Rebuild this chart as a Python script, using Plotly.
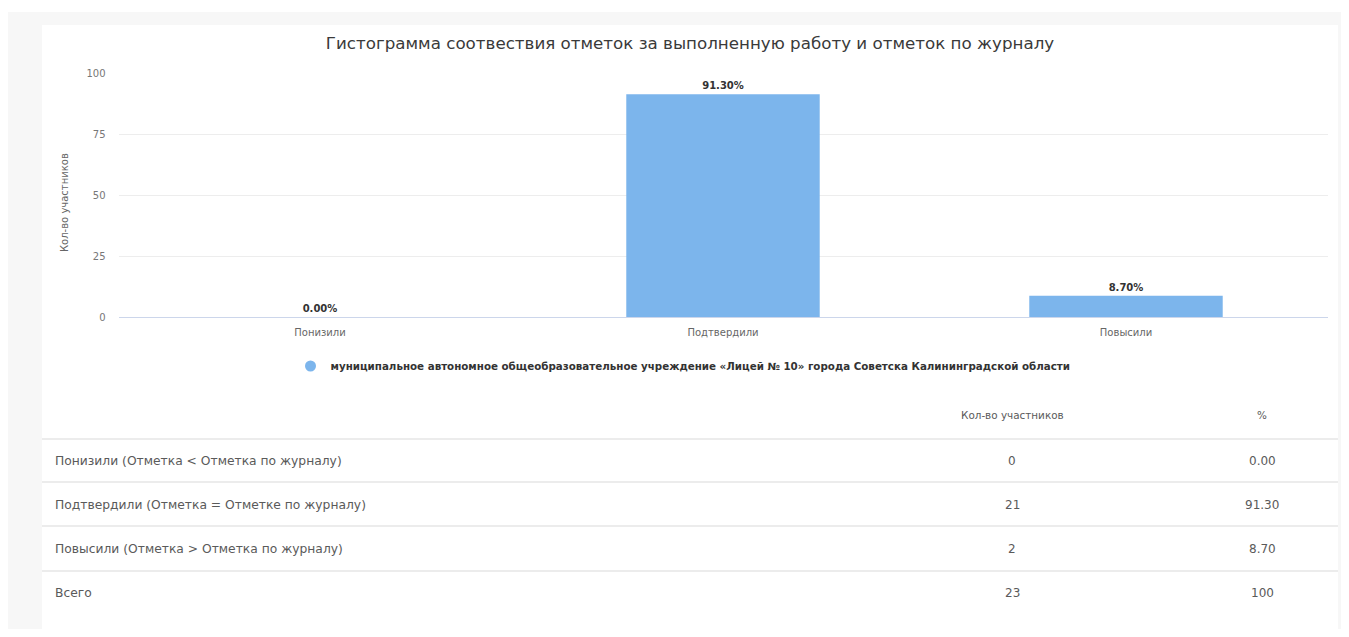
import plotly.graph_objects as go

# ---- data ----
categories = ["Понизили", "Подтвердили", "Повысили"]
percent_values = [0.00, 91.30, 8.70]
series_name = "муниципальное автономное общеобразовательное учреждение «Лицей № 10» города Советска Калининградской области"
y_ticks = [0, 25, 50, 75, 100]
chart_title = "Гистограмма соотвествия отметок за выполненную работу и отметок по журналу"
y_title = "Кол-во участников"

table_header = ["", "Кол-во участников", "%"]
table_labels = [
    "Понизили (Отметка < Отметка по журналу)",
    "Подтвердили (Отметка = Отметке по журналу)",
    "Повысили (Отметка > Отметка по журналу)",
    "Всего",
]
table_counts = ["0", "21", "2", "23"]
table_percents = ["0.00", "91.30", "8.70", "100"]

# ---- layout geometry (figure pixels) ----
W, H = 1333, 621
FONT = "DejaVu Sans"
BAR_COLOR = "#7cb5ec"


def px(x):
    return x / W


def py(y):
    return (H - y) / H


fig = go.Figure()

fig.add_trace(go.Bar(
    x=categories,
    y=percent_values,
    marker=dict(color=BAR_COLOR, line=dict(width=0)),
    width=0.48,
    text=[f"{v:.2f}%" for v in percent_values],
    texttemplate="<b>%{text}</b>",
    textposition="outside",
    textfont=dict(family=FONT, size=10, color="#333333"),
    cliponaxis=False,
    showlegend=False,
    name=series_name,
))
# legend entry with a round symbol
fig.add_trace(go.Scatter(
    x=[None], y=[None], mode="markers",
    marker=dict(symbol="circle", size=11, color=BAR_COLOR),
    name=series_name, showlegend=True,
))

shapes = [
    # gray page background
    dict(type="rect", xref="paper", yref="paper", x0=0, x1=1, y0=0, y1=py(4),
         fillcolor="#f7f7f7", line=dict(width=0), layer="below"),
    # white card
    dict(type="rect", xref="paper", yref="paper", x0=px(34), x1=px(1330), y0=0, y1=py(17),
         fillcolor="#ffffff", line=dict(width=0), layer="below"),
]
for ly in [431, 474, 518, 563]:
    shapes.append(dict(type="line", xref="paper", yref="paper", x0=px(34), x1=px(1330),
                       y0=py(ly), y1=py(ly), line=dict(color="#e6e6e6", width=1.5)))

annotations = [
    dict(text=y_title, xref="paper", yref="paper", x=px(57), y=py(195), textangle=-90,
         showarrow=False, font=dict(family=FONT, size=10, color="#666666"),
         xanchor="center", yanchor="middle"),
]
col_x = [45, 1004, 1254]
header_y = 407
row_y = [453, 497, 541, 585]
for cx, htxt in zip(col_x[1:], table_header[1:]):
    annotations.append(dict(text=htxt, xref="paper", yref="paper", x=px(cx), y=py(header_y),
                            showarrow=False, xanchor="center", yanchor="middle",
                            font=dict(family=FONT, size=10.4, color="#5a5a5a")))
for i in range(len(table_labels)):
    annotations.append(dict(text=table_labels[i], xref="paper", yref="paper", x=px(col_x[0]),
                            y=py(row_y[i]), showarrow=False, xanchor="left", yanchor="middle",
                            font=dict(family=FONT, size=12.3, color="#5a5a5a")))
    annotations.append(dict(text=table_counts[i], xref="paper", yref="paper", x=px(col_x[1]),
                            y=py(row_y[i]), showarrow=False, xanchor="center", yanchor="middle",
                            font=dict(family=FONT, size=12, color="#5a5a5a")))
    annotations.append(dict(text=table_percents[i], xref="paper", yref="paper", x=px(col_x[2]),
                            y=py(row_y[i]), showarrow=False, xanchor="center", yanchor="middle",
                            font=dict(family=FONT, size=12, color="#5a5a5a")))

fig.update_layout(
    width=W, height=H,
    margin=dict(l=0, r=0, t=0, b=0, pad=0, autoexpand=False),
    autosize=False,
    paper_bgcolor="#ffffff",
    plot_bgcolor="rgba(0,0,0,0)",
    font=dict(family=FONT, color="#666666"),
    title=dict(text=chart_title, x=px(682), y=py(35), xanchor="center", yanchor="middle",
               xref="paper", yref="paper", automargin=False,
               font=dict(family=FONT, size=16.7, color="#3a3a3a")),
    xaxis=dict(domain=[px(110.5), px(1319.5)], showgrid=False, showline=True,
               linecolor="#ccd6eb", linewidth=1, ticks="outside", ticklen=6,
               tickcolor="rgba(0,0,0,0)", tickfont=dict(family=FONT, size=10, color="#666666"),
               fixedrange=True, automargin=False),
    yaxis=dict(domain=[py(309), py(65)], range=[0, 100], tickvals=y_ticks,
               showgrid=True, gridcolor="#ededed", gridwidth=1, zeroline=False,
               showline=False, ticks="outside", ticklen=10, tickcolor="rgba(0,0,0,0)",
               tickfont=dict(family=FONT, size=10, color="#777777"), fixedrange=True,
               automargin=False),
    bargap=0.52,
    showlegend=True,
    legend=dict(orientation="h", x=px(675), y=py(358), xanchor="center", yanchor="middle",
                xref="paper", yref="paper",
                font=dict(family=FONT, size=10.3, color="#333333", weight="bold"),
                bgcolor="rgba(0,0,0,0)", itemwidth=30),
    shapes=shapes,
    annotations=annotations,
)

fig.write_html("out.html")
